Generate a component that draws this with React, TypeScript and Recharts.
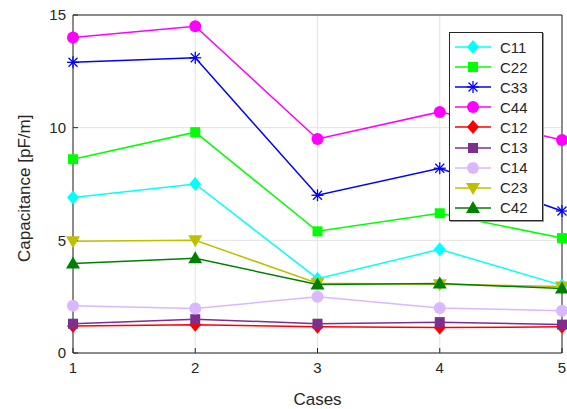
import React from 'react';
import { LineChart, Line, XAxis, YAxis, CartesianGrid, ReferenceLine } from 'recharts';

const cases = [1, 2, 3, 4, 5];
const c11 = [6.9, 7.5, 3.3, 4.6, 3.0];
const c22 = [8.6, 9.8, 5.4, 6.2, 5.1];
const c33 = [12.9, 13.1, 7.0, 8.2, 6.3];
const c44 = [14.0, 14.5, 9.5, 10.7, 9.45];
const c12 = [1.2, 1.25, 1.16, 1.13, 1.16];
const c13 = [1.3, 1.5, 1.3, 1.37, 1.26];
const c14 = [2.1, 1.97, 2.5, 2.0, 1.88];
const c23 = [4.96, 5.0, 3.1, 3.05, 2.95];
const c42 = [3.97, 4.2, 3.04, 3.08, 2.86];
const yTicks = [0, 5, 10, 15];

const series = [
  { key: 'C11', values: c11, color: '#00ffff', shape: 'diamond' },
  { key: 'C22', values: c22, color: '#00ff00', shape: 'square' },
  { key: 'C33', values: c33, color: '#0000ff', shape: 'star' },
  { key: 'C44', values: c44, color: '#ff00ff', shape: 'circle' },
  { key: 'C12', values: c12, color: '#ff0000', shape: 'diamond' },
  { key: 'C13', values: c13, color: '#7e2f8e', shape: 'square' },
  { key: 'C14', values: c14, color: '#d9b8ff', shape: 'circle' },
  { key: 'C23', values: c23, color: '#bfbf00', shape: 'down' },
  { key: 'C42', values: c42, color: '#008000', shape: 'up' },
];

const data = cases.map((c, i) => {
  const row: Record<string, number> = { x: c };
  series.forEach(s => { row[s.key] = s.values[i]; });
  return row;
});

const font = 'Arial, "Liberation Sans", sans-serif';

function Marker({ cx, cy, shape, color }: { cx: number; cy: number; shape: string; color: string }) {
  if (cx == null || cy == null) return null;
  switch (shape) {
    case 'diamond':
      return <polygon points={`${cx},${cy - 7} ${cx + 6},${cy} ${cx},${cy + 7} ${cx - 6},${cy}`} fill={color} />;
    case 'square':
      return <rect x={cx - 5} y={cy - 5} width={10} height={10} fill={color} />;
    case 'circle':
      return <circle cx={cx} cy={cy} r={6} fill={color} />;
    case 'down':
      return <polygon points={`${cx - 7},${cy - 5} ${cx + 7},${cy - 5} ${cx},${cy + 7}`} fill={color} />;
    case 'up':
      return <polygon points={`${cx - 7},${cy + 5} ${cx + 7},${cy + 5} ${cx},${cy - 7}`} fill={color} />;
    case 'star':
      return (
        <g stroke={color} strokeWidth={1.3}>
          <line x1={cx - 6} y1={cy} x2={cx + 6} y2={cy} />
          <line x1={cx} y1={cy - 6} x2={cx} y2={cy + 6} />
          <line x1={cx - 4.5} y1={cy - 4.5} x2={cx + 4.5} y2={cy + 4.5} />
          <line x1={cx - 4.5} y1={cy + 4.5} x2={cx + 4.5} y2={cy - 4.5} />
        </g>
      );
    default:
      return null;
  }
}

function ChartLegend() {
  return (
    <div style={{ position: 'absolute', left: 449, top: 32, background: '#fff', border: '1px solid #262626', boxShadow: '1px 1px 0 #999', width: 92, padding: '4px 0 2px 0', fontFamily: font }}>
      {series.map(s => (
        <div key={s.key} style={{ display: 'flex', alignItems: 'center', height: 20.1 }}>
          <svg width={50} height={20}>
            <line x1={5} y1={10} x2={41} y2={10} stroke={s.color} strokeWidth={1.5} />
            <Marker cx={23} cy={10} shape={s.shape} color={s.color} />
          </svg>
          <span style={{ fontSize: 15, color: '#262626' }}>{s.key}</span>
        </div>
      ))}
    </div>
  );
}

const tickStyle = { fill: '#262626', fontSize: 15, fontFamily: font };

export default function App() {
  return (
    <div style={{ position: 'absolute', left: 0, top: 0, width: 567, height: 409, background: '#fff' }}>
      <LineChart width={567} height={409} data={data} margin={{ top: 15, right: 5, left: 33, bottom: 16 }}>
        <CartesianGrid stroke="#e3e3e3" />
        <XAxis
          dataKey="x"
          type="number"
          domain={[1, 5]}
          ticks={cases}
          height={40}
          stroke="#262626"
          tickSize={-5}
          tickMargin={14}
          tick={tickStyle}
          label={{ value: 'Cases', position: 'insideBottom', offset: -12, fill: '#262626', fontSize: 17, fontFamily: font }}
        />
        <YAxis
          type="number"
          domain={[0, 15]}
          ticks={yTicks}
          width={40}
          stroke="#262626"
          tickSize={-5}
          tickMargin={12}
          tick={tickStyle}
          label={{ value: 'Capacitance [pF/m]', angle: -90, position: 'insideLeft', offset: -9, dy: 78, fill: '#262626', fontSize: 17, fontFamily: font }}
        />
        <ReferenceLine y={15} stroke="#262626" />
        <ReferenceLine x={5} stroke="#262626" />
        {series.map(s => (
          <Line
            key={s.key}
            dataKey={s.key}
            stroke={s.color}
            strokeWidth={1.5}
            isAnimationActive={false}
            dot={(p: any) => <Marker key={`${s.key}-${p.index}`} cx={p.cx} cy={p.cy} shape={s.shape} color={s.color} />}
            activeDot={false}
          />
        ))}
      </LineChart>
      <ChartLegend />
    </div>
  );
}
